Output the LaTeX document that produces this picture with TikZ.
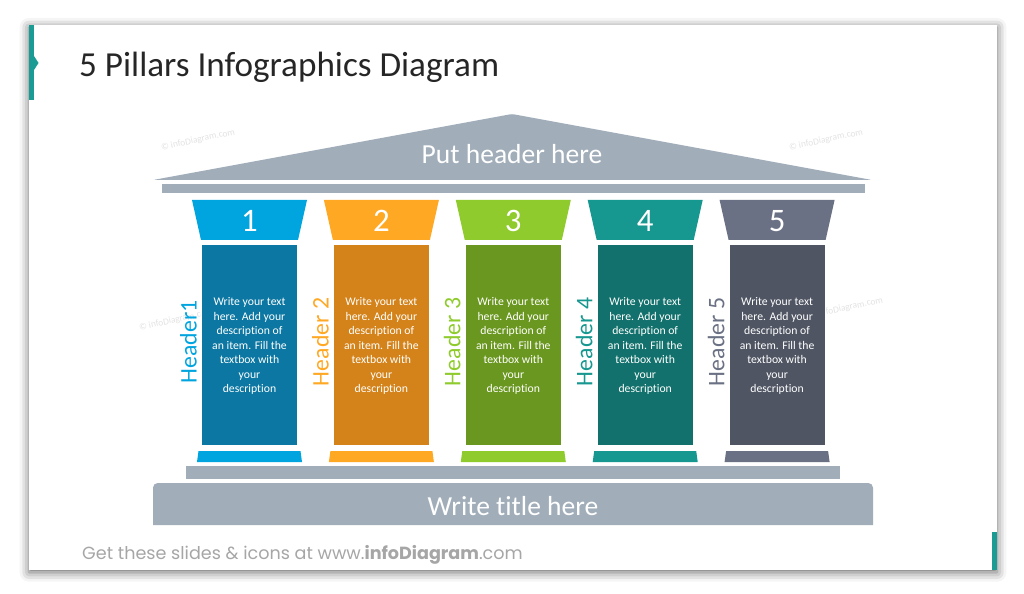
\documentclass[tikz,border=0pt]{standalone}
\usepackage{fontspec}
\setmainfont{Carlito}[Ligatures=CommonOff]
\newfontfamily\footfont{Poppins}
\usetikzlibrary{shadows.blur}
\definecolor{roof}{HTML}{A1AEBA}
\definecolor{accent}{HTML}{1A9B93}
\definecolor{lightA}{HTML}{00A5DF}
\definecolor{darkA}{HTML}{0C77A2}
\definecolor{lightB}{HTML}{FFA824}
\definecolor{darkB}{HTML}{D4831A}
\definecolor{lightC}{HTML}{8FCB2C}
\definecolor{darkC}{HTML}{6A971F}
\definecolor{lightD}{HTML}{16978F}
\definecolor{darkD}{HTML}{12716C}
\definecolor{lightE}{HTML}{6B7184}
\definecolor{darkE}{HTML}{4F5563}
\tikzset{
  num/.style={text=white, font=\fontsize{28}{28}\selectfont},
  desc/.style={text=white, align=center, inner sep=0pt,
      font=\fontsize{10}{12.4}\selectfont},
  hdr/.style={rotate=90, inner sep=0pt, font=\fontsize{20.3}{20.3}\selectfont},
  big/.style={text=white, font=\fontsize{23.5}{23.5}\selectfont},
  wm/.style={text=gray!22, rotate=12, font=\fontsize{8}{8}\selectfont},
}

\begin{document}
\begin{tikzpicture}[x=0.03cm,y=-0.03cm]
      \useasboundingbox (0,0) rectangle (1024,594);

      % slide with shadow
      \path[fill=white, blur shadow={shadow xshift=0pt, shadow yshift=-2pt,
          shadow blur radius=8pt, shadow opacity=60}] (29,25) rectangle (997,570);
      \fill[accent] (29,25) rectangle (34,100);
      \fill[accent] (34,56) -- (38.5,63) -- (34,70) -- cycle;
      \fill[accent] (992,532) rectangle (997,570);

      \node [anchor=base west, inner sep=0pt, text=black!85,
          font=\fontsize{30}{30}\selectfont]
      (title) at (79,77) {5 Pillars Infographics Diagram};

      \foreach \Point/\n in {(198,140)/1, (826,140)/2, (176,320)/3, (846,308)/4}{
          \node [wm] (wm\n) at \Point {© infoDiagram.com};
        }

      % roof
      \fill [roof, rounded corners=2pt] (153,180) -- (512,114) -- (872,180) -- cycle;
      \node [big, anchor=base] (header) at (512,164) {Put header here};
      \fill [roof] (162,184) rectangle (865,193);

      % pillars
      \foreach \i/\c/\cx/\h in {1/A/249.5/Header1, 2/B/381.4/Header 2,
          3/C/513.3/Header 3, 4/D/645.2/Header 4, 5/E/777.1/Header 5}{
          \fill [light\c] (\cx-57.5,200) -- (\cx+57.5,200) -- (\cx+48.5,240)
          -- (\cx-48.5,240) -- cycle;
          \node [num] (num\i) at (\cx,221) {\i};
          \filldraw [fill=dark\c, draw=white, line width=.5pt]
          (\cx-48,244) rectangle (\cx+48,445);
          \node [desc] (desc\i) at (\cx,346) {Write your text\\here. Add your\\
              description of\\an item. Fill the\\textbox with\\your\\description};
          \node [hdr, text=light\c] (hdr\i) at (\cx-61,342) {\h};
          \fill [light\c] (\cx-51,451) -- (\cx+51,451) -- (\cx+52.5,462)
          -- (\cx-52.5,462) -- cycle;
        }

      % base
      \fill [roof] (186,466) rectangle (840,479);
      \fill [roof] (153,525) {[rounded corners=4pt] -- (153,483) -- (873,483)}
      -- (873,525) -- cycle;
      \node [big, anchor=base] (base) at (513,515) {Write title here};

      \node [anchor=base west, inner sep=0pt, text=gray!70,
          font=\footfont\fontsize{15}{15}\selectfont]
      (foot) at (82,559) {Get these slides \& icons at www.\textbf{infoDiagram}.com};
    \end{tikzpicture}
\end{document}
